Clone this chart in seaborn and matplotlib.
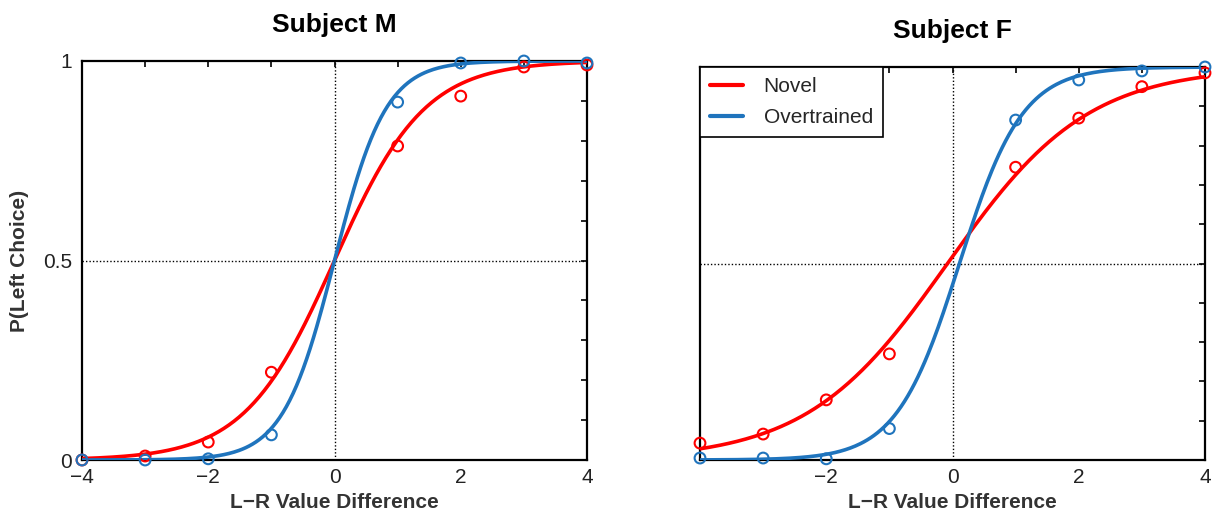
import numpy as np
import pandas as pd
import matplotlib
matplotlib.use("Agg")
import matplotlib.pyplot as plt
import seaborn as sns

# ---- data ----
x_vals = [-4, -3, -2, -1, 1, 2, 3, 4]

m_novel = [0.0, 0.01, 0.045, 0.22, 0.787, 0.912, 0.985, 0.99]
m_over = [0.0, 0.0, 0.003, 0.063, 0.897, 0.995, 1.0, 0.995]

f_novel = [0.043, 0.066, 0.153, 0.27, 0.745, 0.87, 0.95, 0.985]
f_over = [0.005, 0.005, 0.003, 0.08, 0.865, 0.967, 0.99, 1.0]

# logistic fit parameters (slope, midpoint)
m_novel_fit = (1.4, 0.0)
m_over_fit = (2.45, 0.0)
f_novel_fit = (0.9, -0.08)
f_over_fit = (2.0, 0.11)

conditions = ["Novel", "Overtrained"]
titles = ["Subject M", "Subject F"]
x_ticks = [-4, -3, -2, -1, 0, 1, 2, 3, 4]
x_labels_m = ["\u22124", "", "\u22122", "", "0", "", "2", "", "4"]
x_labels_f = ["", "", "\u22122", "", "0", "", "2", "", "4"]
y_ticks = [0.0, 0.1, 0.2, 0.3, 0.4, 0.5, 0.6, 0.7, 0.8, 0.9, 1.0]
y_labels_m = ["0", "", "", "", "", "0.5", "", "", "", "", "1"]

sns.set_style("white")
plt.rcParams["font.family"] = ["Liberation Sans", "DejaVu Sans"]

palette = {"Novel": "#ff0000", "Overtrained": "#1f74bd"}

fig = plt.figure(figsize=(12.13, 5.14), dpi=100)
ax_m = fig.add_axes([82 / 1213, 54 / 514, 505 / 1213, 399 / 514])
ax_f = fig.add_axes([700 / 1213, 54 / 514, 505 / 1213, 393 / 514])


def logistic(x, k, x0):
    return 1.0 / (1.0 + np.exp(-k * (x - x0)))


def draw(ax, novel, over, fit_n, fit_o, title, xlabels, ylabels, legend, tpad):
    xs = np.linspace(-4, 4, 300)
    curves = pd.DataFrame({
        "x": np.concatenate([xs, xs]),
        "p": np.concatenate([logistic(xs, *fit_n), logistic(xs, *fit_o)]),
        "cond": ["Novel"] * len(xs) + ["Overtrained"] * len(xs),
    })
    pts = pd.DataFrame({
        "x": x_vals + x_vals,
        "p": novel + over,
        "cond": ["Novel"] * len(x_vals) + ["Overtrained"] * len(x_vals),
    })
    ax.axvline(0, color="black", linestyle=(0, (1, 1.5)), linewidth=1, zorder=1)
    ax.axhline(0.5, color="black", linestyle=(0, (1, 1.5)), linewidth=1, zorder=1)
    sns.lineplot(data=curves, x="x", y="p", hue="cond", hue_order=conditions,
                 palette=palette, linewidth=2.6, ax=ax, legend=legend, zorder=3)
    sns.scatterplot(data=pts, x="x", y="p", hue="cond", hue_order=conditions,
                    palette=palette, ax=ax, legend=False, marker="o",
                    s=60, linewidth=1.5, zorder=4, clip_on=False)
    # open circles
    for coll in ax.collections:
        fc = coll.get_facecolors()
        if len(fc):
            coll.set_edgecolors(fc)
            coll.set_facecolors("none")
    ax.set_xlim(-4, 4)
    ax.set_ylim(0, 1)
    ax.set_xticks(x_ticks)
    ax.set_xticklabels(xlabels)
    ax.set_yticks(y_ticks)
    ax.set_yticklabels(ylabels)
    ax.tick_params(direction="in", length=4, width=1.2, top=True, right=True,
                   labelsize=15, colors="black", labelcolor="#222222")
    ax.tick_params(axis="x", pad=6)
    ax.tick_params(axis="y", pad=7)
    for sp in ax.spines.values():
        sp.set_linewidth(1.6)
        sp.set_color("black")
    ax.set_title(title, fontsize=19, fontweight="bold", pad=tpad, color="black")
    ax.set_xlabel("L\u2212R Value Difference", fontsize=15, fontweight="bold",
                  color="#333333", labelpad=4)
    ax.set_ylabel("")
    if legend:
        leg = ax.legend(loc="upper left", fontsize=15, frameon=True,
                        fancybox=False, framealpha=1, borderaxespad=0,
                        handlelength=1.55, borderpad=0.5, labelspacing=0.55,
                        handletextpad=1.0)
        leg.get_frame().set_edgecolor("black")
        leg.get_frame().set_linewidth(1.2)
        for line in leg.get_lines():
            line.set_linewidth(3)


draw(ax_m, m_novel, m_over, m_novel_fit, m_over_fit, titles[0],
     x_labels_m, y_labels_m, False, 21)
draw(ax_f, f_novel, f_over, f_novel_fit, f_over_fit, titles[1],
     x_labels_f, [""] * len(y_ticks), True, 21)
ax_m.set_ylabel("P(Left Choice)", fontsize=15, fontweight="bold",
                color="#333333", labelpad=10)

fig.savefig("out.png", dpi=100)
